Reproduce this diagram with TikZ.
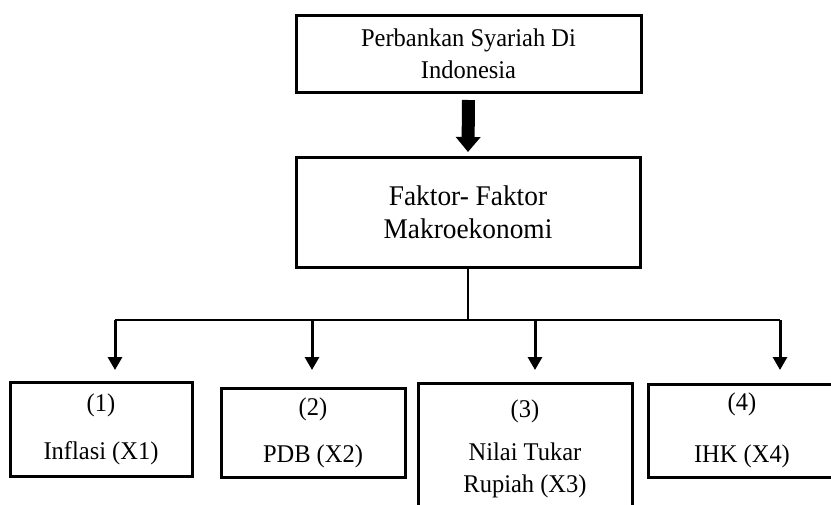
\documentclass[tikz,border=0pt]{standalone}
\usepackage{fontspec}
\setmainfont{Liberation Serif}[FakeStretch=0.96]
\usetikzlibrary{arrows.meta}
\tikzstyle{box} = [draw,line width=3pt,inner sep=0pt,align=center,font=\fontsize{25.5}{32}\selectfont]
\tikzstyle{line} = [line width=1.3pt]
\tikzstyle{arrow} = [line width=3pt,-{Triangle[width=14pt,length=13pt]}]
\tikzstyle{bigarrow} = [line width=13pt,-{Triangle[width=24pt,length=15pt]}]

\begin{document}
\begin{tikzpicture}[x=1pt,y=-1pt]
\useasboundingbox (0,0) rectangle (831,504);

\node[box,minimum width=345pt,minimum height=77pt] (bank) at (468.5,53.5) {Perbankan Syariah Di\\Indonesia};
\node[box,minimum width=344pt,minimum height=110pt,font=\fontsize{28.5}{33}\selectfont] (makro) at (468,212) {Faktor- Faktor\\Makroekonomi};

\node[box,minimum width=182pt,minimum height=94pt] (x1) at (101,429) {(1)\\[16pt]Inflasi (X1)};
\node[box,minimum width=184pt,minimum height=89pt] (x2) at (313,433) {(2)\\[15pt]PDB (X2)};
\node[box,minimum width=214pt,minimum height=132pt] (x3) at (525,449) {(3)\\[11pt]Nilai Tukar\\Rupiah (X3)};
\node[box,minimum width=188pt,minimum height=93pt] (x4) at (742,430.5) {(4)\\[20pt]IHK (X4)};

\draw[bigarrow] ([yshift=-6.5pt]bank.south) -- ([yshift=3.5pt]makro.north);

\coordinate (bus) at (468,320);
\draw[line] (makro.south) -- (bus);
\foreach \i/\x in {1/115,2/312,3/535,4/780}
{
 \coordinate (d\i) at (\x,320);
 \coordinate (t\i) at (\x,370);
 \draw[arrow] (d\i) -- (t\i);
}
\draw[line] (d1) -- (d4);

\end{tikzpicture}
\end{document}
